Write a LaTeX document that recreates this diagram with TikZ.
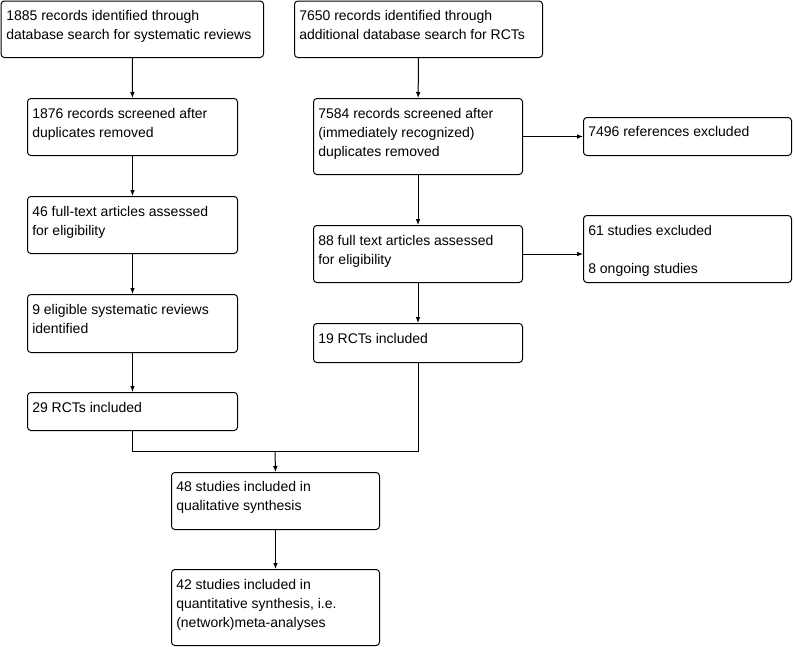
\documentclass[tikz,border=0pt]{standalone}
\usepackage{fontspec}
\setmainfont{Liberation Sans}
\usetikzlibrary{arrows.meta,calc}
\newcommand{\ls}{\rule[-3.75pt]{0pt}{14.25pt}}
\tikzset{
  box/.style={draw, line width=0.75pt, rounded corners=2.5pt, inner sep=0pt, anchor=north west},
  txt/.style={anchor=north west, inner sep=0pt, align=left, font=\fontsize{10.5}{14.25}\selectfont},
  conn/.style={line width=0.75pt, -{Latex[length=4.5pt,width=3.5pt]}},
  plain/.style={line width=0.75pt}
}
\begin{document}
\begin{tikzpicture}[x=0.75pt,y=-0.75pt]
\useasboundingbox (0,0) rectangle (795,646);
% boxes: #name, x1,y1, width, height (px)
\node[box, minimum width=262.5*0.75pt, minimum height=56.5*0.75pt] (b1) at (0.5,0.5) {};
\node[box, minimum width=248*0.75pt, minimum height=56.5*0.75pt] (b2) at (294,0.5) {};
\node[box, minimum width=210*0.75pt, minimum height=57*0.75pt] (b3) at (27,98) {};
\node[box, minimum width=209*0.75pt, minimum height=76*0.75pt] (b4) at (313,98) {};
\node[box, minimum width=208*0.75pt, minimum height=38*0.75pt] (b5) at (583,117) {};
\node[box, minimum width=210*0.75pt, minimum height=57*0.75pt] (b6) at (27,196) {};
\node[box, minimum width=209*0.75pt, minimum height=57*0.75pt] (b7) at (313,225) {};
\node[box, minimum width=208*0.75pt, minimum height=67*0.75pt] (b8) at (583,215) {};
\node[box, minimum width=210*0.75pt, minimum height=58*0.75pt] (b9) at (27,294) {};
\node[box, minimum width=209*0.75pt, minimum height=39*0.75pt] (b10) at (313,323) {};
\node[box, minimum width=210*0.75pt, minimum height=38*0.75pt] (b11) at (27,392) {};
\node[box, minimum width=208*0.75pt, minimum height=57*0.75pt] (b12) at (171,472) {};
\node[box, minimum width=208*0.75pt, minimum height=76*0.75pt] (b13) at (171,569) {};
% texts
\node[txt] (t1) at (6,6) {\ls 1885 records identified through\\\ls database search for systematic reviews};
\node[txt] (t2) at (299,6) {\ls 7650 records identified through\\\ls additional database search for RCTs};
\node[txt] (t3) at (32,104) {\ls 1876 records screened after\\\ls duplicates removed};
\node[txt] (t4) at (318,104) {\ls 7584 records screened after\\\ls (immediately recognized)\\\ls duplicates removed};
\node[txt] (t5) at (588,122) {\ls 7496 references excluded};
\node[txt] (t6) at (32,202) {\ls 46 full-text articles assessed\\\ls for eligibility};
\node[txt] (t7) at (318,231) {\ls 88 full text articles assessed\\\ls for eligibility};
\node[txt] (t8) at (588,221) {\ls 61 studies excluded\\\ls\\\ls 8 ongoing studies};
\node[txt] (t9) at (32,300) {\ls 9 eligible systematic reviews\\\ls identified};
\node[txt] (t10) at (318,329) {\ls 19 RCTs included};
\node[txt] (t11) at (32,398) {\ls 29 RCTs included};
\node[txt] (t12) at (176,477) {\ls 48 studies included in\\\ls qualitative synthesis};
\node[txt] (t13) at (176,575) {\ls 42 studies included in\\\ls quantitative synthesis, i.e.\\\ls (network)meta-analyses};
% connectors
\draw[conn] (b1) -- (b3);
\draw[conn] (b3) -- (b6);
\draw[conn] (b6) -- (b9);
\draw[conn] (b9) -- (b11);
\draw[conn] (b2) -- (b4);
\draw[conn] (b4) -- (b7);
\draw[conn] (b7) -- (b10);
\draw[conn] (b4.east) -- (b4.east -| b5.west);
\draw[conn] (b7.east) -- (b7.east -| b8.west);
\coordinate (j) at (275,451);
\draw[plain] (b11.south) |- (j);
\draw[plain] (b10.south) |- (j);
\draw[conn] (j) -- (b12.north);
\draw[conn] (b12) -- (b13);
\end{tikzpicture}
\end{document}
